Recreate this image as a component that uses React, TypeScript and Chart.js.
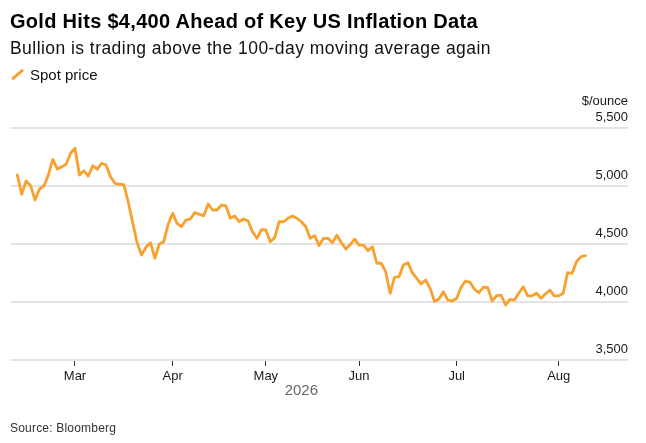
import React, { useEffect, useRef } from "react";
import { Chart, registerables } from "chart.js";

Chart.register(...registerables);

// Daily gold spot price ($/oz), trading days from mid-February 2026
const spotPrice = [
  5095, 4928, 5043, 5003, 4879, 4974, 5000, 5095, 5230, 5147,
  5165, 5187, 5282, 5325, 5095, 5132, 5086, 5175, 5144, 5196,
  5181, 5080, 5023, 5015, 5012, 4862, 4683, 4509, 4405, 4472,
  4511, 4377, 4500, 4520, 4672, 4764, 4678, 4649, 4707, 4716,
  4770, 4756, 4744, 4845, 4793, 4793, 4836, 4828, 4722, 4741,
  4692, 4716, 4698, 4606, 4549, 4623, 4621, 4520, 4554, 4692,
  4692, 4722, 4741, 4722, 4692, 4649, 4549, 4572, 4486, 4549,
  4549, 4511, 4575, 4513, 4457, 4494, 4542, 4491, 4491, 4442,
  4477, 4334, 4334, 4261, 4075, 4213, 4218, 4319, 4339, 4253,
  4204, 4155, 4190, 4118, 4004, 4026, 4089, 4017, 4009, 4032,
  4127, 4181, 4170, 4110, 4080, 4127, 4124, 4009, 4054, 4060,
  3974, 4023, 4017, 4075, 4132, 4052, 4054, 4075, 4032, 4069,
  4103, 4052, 4054, 4075, 4253, 4247, 4348, 4391, 4400,
];

// Index (trading day) of the first session of each month
const monthTickIndex = [13, 35, 56, 77, 99, 122];
const monthLabels = ["Mar", "Apr", "May", "Jun", "Jul", "Aug"];
const priceTicks = [3500, 4000, 4500, 5000, 5500];
const yearLabel = "2026";

const titleText = "Gold Hits $4,400 Ahead of Key US Inflation Data";
const subtitleText = "Bullion is trading above the 100-day moving average again";
const legendText = "Spot price";
const unitText = "$/ounce";
const sourceText = "Source: Bloomberg";

const FONT = "'Liberation Sans', Arial, Helvetica, sans-serif";
const ORANGE = "#f8a12f";

export default function App() {
  const ref = useRef<HTMLCanvasElement>(null);

  useEffect(() => {
    if (!ref.current) return;
    const yearPlugin = {
      id: "yearLabel",
      afterDraw(chart: any) {
        const xs = chart.scales.x;
        const cx =
          (xs.getPixelForValue(0) + xs.getPixelForValue(spotPrice.length - 1)) / 2;
        const ctx = chart.ctx;
        ctx.save();
        ctx.font = `15px ${FONT}`;
        ctx.fillStyle = "#666666";
        ctx.textAlign = "center";
        ctx.textBaseline = "middle";
        ctx.fillText(yearLabel, cx, chart.chartArea.bottom + 31);
        ctx.restore();
      },
    };

    const chart = new Chart(ref.current, {
      type: "line",
      data: {
        datasets: [
          {
            label: legendText,
            data: spotPrice.map((v, i) => ({ x: i, y: v })),
            borderColor: ORANGE,
            borderWidth: 2.8,
            pointRadius: 0,
            tension: 0,
            borderJoinStyle: "round",
            borderCapStyle: "round",
          },
        ],
      },
      options: {
        animation: false,
        responsive: false,
        maintainAspectRatio: false,
        layout: { padding: { top: 128, left: 11, right: 18, bottom: 43 } },
        plugins: {
          legend: { display: false },
          tooltip: { enabled: false },
        },
        scales: {
          x: {
            type: "linear",
            min: -1.42,
            max: 137.6,
            afterBuildTicks: (axis: any) => {
              axis.ticks = monthTickIndex.map((v) => ({ value: v }));
            },
            afterFit: (s: any) => {
              s.height = 40;
            },
            grid: {
              drawOnChartArea: false,
              drawTicks: true,
              tickLength: 6,
              tickColor: "#333333",
              tickWidth: 1,
            },
            border: { display: false },
            ticks: {
              autoSkip: false,
              maxRotation: 0,
              padding: 3,
              color: "#1a1a1a",
              font: { family: FONT, size: 13 },
              callback: (v: any) => monthLabels[monthTickIndex.indexOf(Number(v))] ?? "",
            },
          },
          y: {
            position: "right",
            min: 3500,
            max: 5500,
            afterBuildTicks: (axis: any) => {
              axis.ticks = priceTicks.map((v) => ({ value: v }));
            },
            afterFit: (s: any) => {
              s.width = 0;
            },
            grid: { color: "#e3e3e3", lineWidth: 2, drawTicks: false },
            border: { display: false },
            ticks: {
              mirror: true,
              padding: 0,
              labelOffset: -11,
              color: "#1a1a1a",
              font: { family: FONT, size: 13 },
              callback: (v: any) => Number(v).toLocaleString("en-US"),
            },
          },
        },
      },
      plugins: [yearPlugin],
    } as any);

    return () => chart.destroy();
  }, []);

  const abs: React.CSSProperties = {
    position: "absolute",
    whiteSpace: "nowrap",
    margin: 0,
  };

  return (
    <div
      style={{
        position: "fixed",
        left: 0,
        top: 0,
        width: 646,
        height: 443,
        background: "#ffffff",
        fontFamily: FONT,
        overflow: "hidden",
      }}
    >
      <canvas
        ref={ref}
        width={646}
        height={443}
        style={{ position: "absolute", left: 0, top: 0, width: 646, height: 443 }}
      />
      <div
        style={{
          ...abs,
          left: 10,
          top: 11.4,
          fontSize: 20,
          lineHeight: "20px",
          fontWeight: 700,
          letterSpacing: "0.3px",
          color: "#000",
        }}
      >
        {titleText}
      </div>
      <div
        style={{
          ...abs,
          left: 10,
          top: 40.2,
          fontSize: 17.5,
          lineHeight: "17.5px",
          letterSpacing: "0.45px",
          color: "#111",
        }}
      >
        {subtitleText}
      </div>
      <div
        style={{
          ...abs,
          left: 16,
          top: 67.4,
          width: 3,
          height: 15.3,
          background: ORANGE,
          borderRadius: 1.5,
          transform: "rotate(49deg)",
        }}
      />
      <div
        style={{
          ...abs,
          left: 30,
          top: 67.3,
          fontSize: 15,
          lineHeight: "15px",
          color: "#111",
        }}
      >
        {legendText}
      </div>
      <div
        style={{
          ...abs,
          right: 18,
          top: 93.5,
          fontSize: 13,
          lineHeight: "13px",
          color: "#1a1a1a",
        }}
      >
        {unitText}
      </div>
      <div
        style={{
          ...abs,
          left: 10,
          top: 422,
          fontSize: 12,
          lineHeight: "12px",
          letterSpacing: "0.2px",
          color: "#333",
        }}
      >
        {sourceText}
      </div>
    </div>
  );
}
